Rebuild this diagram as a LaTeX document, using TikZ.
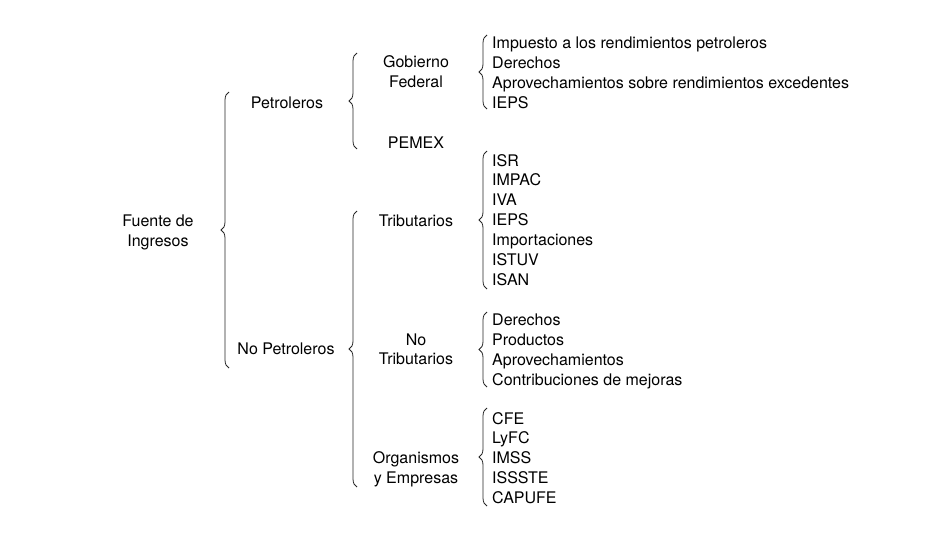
\documentclass[tikz,border=0pt]{standalone}
\usepackage{fontspec}
\setmainfont{TeX Gyre Heros}
\usetikzlibrary{decorations.pathreplacing}
\begin{document}
\begin{tikzpicture}[x=1pt,y=-1pt,
  lbl/.style={font=\fontsize{16}{19}\selectfont, inner sep=0pt, anchor=base},
  item/.style={font=\fontsize{16}{19}\selectfont, inner sep=0pt, anchor=base west},
  br/.style={draw=black!85, line width=0.8pt, decorate, decoration={brace, amplitude=8pt}}]
\useasboundingbox (0,0) rectangle (951,551);
% left labels
\node[lbl] (f1) at (158,226) {Fuente de};
\node[lbl] (f2) at (158,246) {Ingresos};
\node[lbl] (pet) at (287,108) {Petroleros};
\node[lbl] (npet) at (286,354) {No Petroleros};
\node[lbl] (gob1) at (416,68) {Gobierno};
\node[lbl] (gob2) at (416,88) {Federal};
\node[lbl] (pemex) at (416,148) {PEMEX};
\node[lbl] (trib) at (416,226) {Tributarios};
\node[lbl] (nt1) at (416,345) {No};
\node[lbl] (nt2) at (416,364) {Tributarios};
\node[lbl] (org1) at (416,463) {Organismos};
\node[lbl] (org2) at (416,483) {y Empresas};
% items
\foreach \t [count=\i] in {Impuesto a los rendimientos petroleros, Derechos, Aprovechamientos sobre rendimientos excedentes, IEPS}
  \node[item] (g\i) at (492,{49+(\i-1)*19.67}) {\t};
\foreach \t [count=\i] in {ISR, IMPAC, IVA, IEPS, Importaciones, ISTUV, ISAN}
  \node[item] (t\i) at (492,{166+(\i-1)*19.95}) {\t};
\foreach \t [count=\i] in {Derechos, Productos, Aprovechamientos, Contribuciones de mejoras}
  \node[item] (n\i) at (492,{325+(\i-1)*20}) {\t};
\foreach \t [count=\i] in {CFE, LyFC, IMSS, ISSSTE, CAPUFE}
  \node[item] (o\i) at (492,{424+(\i-1)*19.75}) {\t};
% brace end points
\coordinate (b1t) at (229,92);  \coordinate (b1b) at (229,368);
\coordinate (b2t) at (357,53);  \coordinate (b2b) at (357,149);
\coordinate (b3t) at (487,35);  \coordinate (b3b) at (487,109);
\coordinate (b4t) at (357,211); \coordinate (b4b) at (357,487);
\coordinate (b5t) at (487,151); \coordinate (b5b) at (487,289);
\coordinate (b6t) at (487,312); \coordinate (b6b) at (487,387);
\coordinate (b7t) at (487,408); \coordinate (b7b) at (487,506);
\foreach \k in {1,...,7}
  \draw[br] (b\k b) -- (b\k t);
\end{tikzpicture}
\end{document}
